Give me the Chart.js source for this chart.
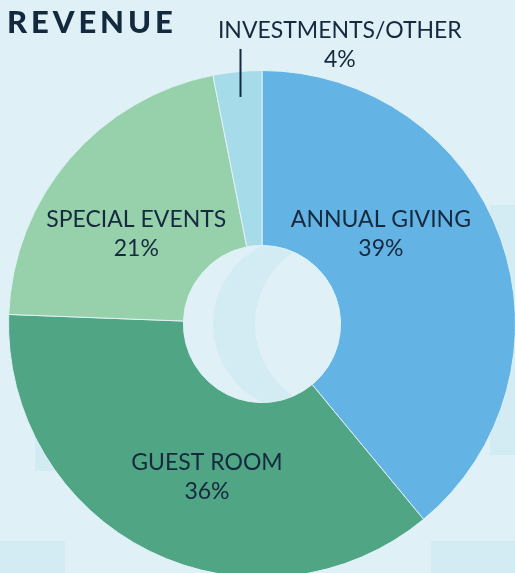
<!DOCTYPE html>
<html>
<head>
<meta charset="utf-8">
<script src="https://cdn.jsdelivr.net/npm/chart.js@4/dist/chart.umd.min.js"></script>
<style>
  html, body { margin: 0; padding: 0; background: #dff1f6; overflow: hidden; width: 515px; height: 573px; }
  #wrap { position: absolute; left: 0; top: 0; width: 530px; height: 590px; }
  #title { position: absolute; left: 7px; top: 2px; font-family: Lato, sans-serif; font-weight: 900;
           font-size: 31px; letter-spacing: 3.9px; color: #13293d; z-index: 2; }
</style>
</head>
<body>
<div id="title">REVENUE</div>
<div id="wrap"><canvas id="c"></canvas></div>
<script>
// ---- data ----
const categories = ['ANNUAL GIVING', 'GUEST ROOM', 'SPECIAL EVENTS', 'INVESTMENTS/OTHER'];
const sliceShares = [39, 36.6, 21.3, 3.1];          // measured slice sizes
const percentLabels = ['39%', '36%', '21%', '4%'];   // printed values

// ---- styling ----
const sliceColors = ['#63b3e4', '#50a584', '#97d1ab', '#a6dcea'];
const bg = '#dff1f6';
const faint = '#d3ebf2';
const textColor = '#15293f';
// label anchors relative to centre, in units of outer radius (first line baseline)
const labelAnchors = [
  { dx: 0.469, dy: -0.382 },
  { dx: -0.217, dy: 0.575 },
  { dx: -0.496, dy: -0.382 },
  { dx: 0.307, dy: -1.13 }
];

const decor = {
  id: 'decor',
  beforeDraw(chart) {
    const ctx = chart.ctx;
    ctx.save();
    ctx.fillStyle = faint;
    ctx.fillRect(0, 541, 65, 60);
    ctx.fillRect(431, 541, 100, 60);
    ctx.fillRect(35, 430, 25, 41);
    ctx.fillRect(490, 205, 40, 250);
    ctx.restore();
  },
  afterDatasetsDraw(chart) {
    const arc = chart.getDatasetMeta(0).data[0];
    const { x, y, innerRadius } = arc.getProps(['x', 'y', 'innerRadius'], true);
    const ctx = chart.ctx;
    ctx.save();
    ctx.beginPath();
    ctx.arc(x, y, innerRadius - 0.5, 0, Math.PI * 2);
    ctx.clip();
    ctx.beginPath();
    ctx.arc(x + 38, y, 87, 0, Math.PI * 2);
    ctx.arc(x + 80, y, 87, 0, Math.PI * 2, true);
    ctx.fillStyle = faint;
    ctx.fill('evenodd');
    ctx.restore();
  },
  afterDraw(chart) {
    const meta = chart.getDatasetMeta(0);
    const first = meta.data[0].getProps(['x', 'y', 'outerRadius'], true);
    const cx = first.x, cy = first.y, R = first.outerRadius;
    const ctx = chart.ctx;
    ctx.save();
    // leader line for the small slice
    const inv = meta.data[3].getProps(['startAngle', 'endAngle'], true);
    const mid = (inv.startAngle + inv.endAngle) / 2;
    const lx = cx + Math.cos(mid) * 0.9 * R;
    const ly = cy + Math.sin(mid) * 0.9 * R;
    ctx.strokeStyle = textColor;
    ctx.lineWidth = 2;
    ctx.beginPath();
    ctx.moveTo(Math.round(lx) + 0.5, ly);
    ctx.lineTo(Math.round(lx) + 0.5, ly - 48);
    ctx.stroke();
    // labels
    ctx.fillStyle = textColor;
    ctx.font = '400 23px Lato, sans-serif';
    ctx.textAlign = 'center';
    ctx.textBaseline = 'alphabetic';
    categories.forEach((name, i) => {
      const a = labelAnchors[i];
      const tx = cx + a.dx * R, ty = cy + a.dy * R;
      ctx.fillText(name, tx, ty);
      ctx.fillText(percentLabels[i], tx, ty + 29);
    });
    ctx.restore();
  }
};

new Chart(document.getElementById('c'), {
  type: 'doughnut',
  data: {
    labels: categories,
    datasets: [{
      data: sliceShares,
      backgroundColor: sliceColors,
      borderColor: bg,
      borderWidth: 1
    }]
  },
  options: {
    responsive: true,
    maintainAspectRatio: false,
    animation: false,
    cutout: '31%',
    layout: { padding: { left: 8, top: 70, right: 14, bottom: 12 } },
    plugins: { legend: { display: false }, tooltip: { enabled: false } }
  },
  plugins: [decor]
});
</script>
</body>
</html>
